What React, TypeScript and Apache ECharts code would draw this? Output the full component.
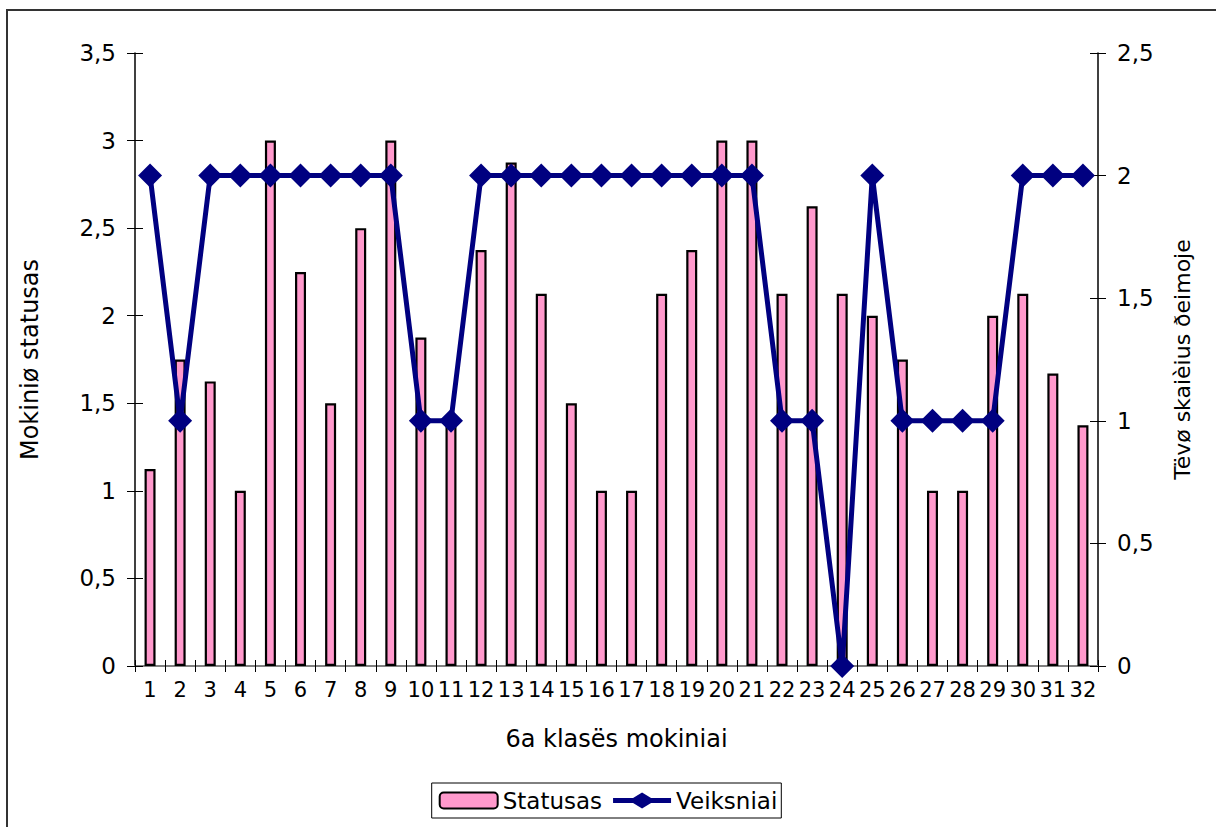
import React, { useEffect, useRef } from "react";
import * as echarts from "echarts";

const categories = ["1","2","3","4","5","6","7","8","9","10","11","12","13","14","15","16","17","18","19","20","21","22","23","24","25","26","27","28","29","30","31","32"];
const statusas = [1.125,1.75,1.625,1,3,2.25,1.5,2.5,3,1.875,1.375,2.375,2.875,2.125,1.5,1,1,2.125,2.375,3,3,2.125,2.625,2.125,2,1.75,1,1,2,2.125,1.67,1.375];
const veiksniai = [2,1,2,2,2,2,2,2,2,1,1,2,2,2,2,2,2,2,2,2,2,1,1,0,2,1,1,1,1,2,2,2];
const leftTitle = "Mokiniø statusas";
const rightTitle = "Tëvø skaièius ðeimoje";
const xTitle = "6a klasës mokiniai";

const FONT = "DejaVu Sans";
const fmt = (v: number) => String(v).replace(".", ",");
const lineIcon = "path://M0,5.5H20L29,0L38,5.5H58V10.5H38L29,16L20,10.5H0Z";

export default function App() {
  const ref = useRef<HTMLDivElement>(null);
  useEffect(() => {
    if (!ref.current) return;
    const chart = echarts.init(ref.current, undefined, { renderer: "svg" });
    const gridRect = { left: 135, right: 118, top: 53, bottom: 161 };
    const tickStyle = { color: "#000", width: 1 };
    chart.setOption({
      animation: false,
      backgroundColor: "#fff",
      textStyle: { fontFamily: FONT, color: "#000" },
      graphic: [
        {
          type: "rect",
          shape: { x: 7, y: 10, width: 1300, height: 900 },
          style: { fill: "none", stroke: "#333", lineWidth: 2 },
          silent: true,
        },
      ],
      grid: [
        { ...gridRect },
        { ...gridRect },
      ],
      legend: {
        left: "center",
        top: 783,
        padding: [6, 4, 6, 7],
        borderColor: "#000",
        borderWidth: 1,
        itemWidth: 58,
        itemHeight: 16,
        itemGap: 11,
        textStyle: { fontFamily: FONT, fontSize: 23, color: "#000" },
        data: [
          { name: "Statusas" },
          { name: "Veiksniai", icon: lineIcon, itemStyle: { color: "#000080", borderWidth: 0 } },
        ],
      },
      xAxis: [
        {
          type: "category",
          gridIndex: 0,
          position: "bottom",
          data: categories,
          boundaryGap: true,
          axisLine: { lineStyle: { color: "#808080", width: 1.5 } },
          axisTick: { show: true, length: 6, inside: false, lineStyle: { color: "#000" } },
          axisLabel: { interval: 0, margin: 13, fontSize: 21, color: "#000", fontFamily: FONT },
          name: xTitle,
          nameLocation: "middle",
          nameGap: 61,
          nameTextStyle: { fontSize: 24, color: "#000", fontFamily: FONT },
        },
        {
          type: "category",
          gridIndex: 0,
          position: "top",
          data: categories,
          axisLine: { show: true, lineStyle: { color: "#808080", width: 2 } },
          axisTick: { show: false },
          axisLabel: { show: false },
        },
        {
          type: "category",
          gridIndex: 1,
          position: "bottom",
          data: categories,
          boundaryGap: true,
          axisLine: { show: false },
          axisTick: { show: true, inside: true, length: 6, lineStyle: { color: "#000" } },
          axisLabel: { show: false },
        },
      ],
      yAxis: [
        {
          type: "value",
          gridIndex: 0,
          position: "left",
          min: 0,
          max: 3.5,
          interval: 0.5,
          splitLine: { show: false },
          axisLine: { show: true, lineStyle: { color: "#000", width: 1.5 } },
          axisTick: { show: true, length: 8, lineStyle: tickStyle },
          axisLabel: { margin: 19, fontSize: 23, color: "#000", fontFamily: FONT, formatter: fmt },
          name: leftTitle,
          nameLocation: "middle",
          nameRotate: 90,
          nameGap: 93,
          nameTextStyle: { fontSize: 24, color: "#000", fontFamily: FONT },
        },
        {
          type: "value",
          gridIndex: 0,
          position: "right",
          min: 0,
          max: 2.5,
          interval: 0.5,
          splitLine: { show: false },
          axisLine: { show: true, lineStyle: { color: "#000", width: 1.5 } },
          axisTick: { show: true, length: 8, lineStyle: tickStyle },
          axisLabel: { margin: 19, fontSize: 23, color: "#000", fontFamily: FONT, formatter: fmt },
          name: rightTitle,
          nameLocation: "middle",
          nameRotate: 90,
          nameGap: 73,
          nameTextStyle: { fontSize: 22, color: "#000", fontFamily: FONT },
        },
        {
          type: "value",
          gridIndex: 1,
          position: "left",
          min: 0,
          max: 3.5,
          interval: 0.5,
          splitLine: { show: false },
          axisLine: { show: false },
          axisTick: { show: true, inside: true, length: 8, lineStyle: tickStyle },
          axisLabel: { show: false },
        },
        {
          type: "value",
          gridIndex: 1,
          position: "right",
          min: 0,
          max: 2.5,
          interval: 0.5,
          splitLine: { show: false },
          axisLine: { show: false },
          axisTick: { show: true, inside: true, length: 8, lineStyle: tickStyle },
          axisLabel: { show: false },
        },
      ],
      series: [
        {
          name: "Statusas",
          type: "bar",
          xAxisIndex: 0,
          yAxisIndex: 0,
          data: statusas,
          barWidth: 11,
          itemStyle: { color: "#FF99CC", borderColor: "#000", borderWidth: 2.2 },
          z: 2,
        },
        {
          name: "Veiksniai",
          type: "line",
          xAxisIndex: 0,
          yAxisIndex: 1,
          data: veiksniai,
          symbol: "diamond",
          symbolSize: 24,
          showAllSymbol: true,
          lineStyle: { color: "#000080", width: 5 },
          itemStyle: { color: "#000080" },
          z: 3,
        },
      ],
    });
    return () => chart.dispose();
  }, []);
  return (
    <div
      ref={ref}
      style={{ position: "absolute", left: 0, top: 0, width: 1216, height: 827 }}
    />
  );
}
